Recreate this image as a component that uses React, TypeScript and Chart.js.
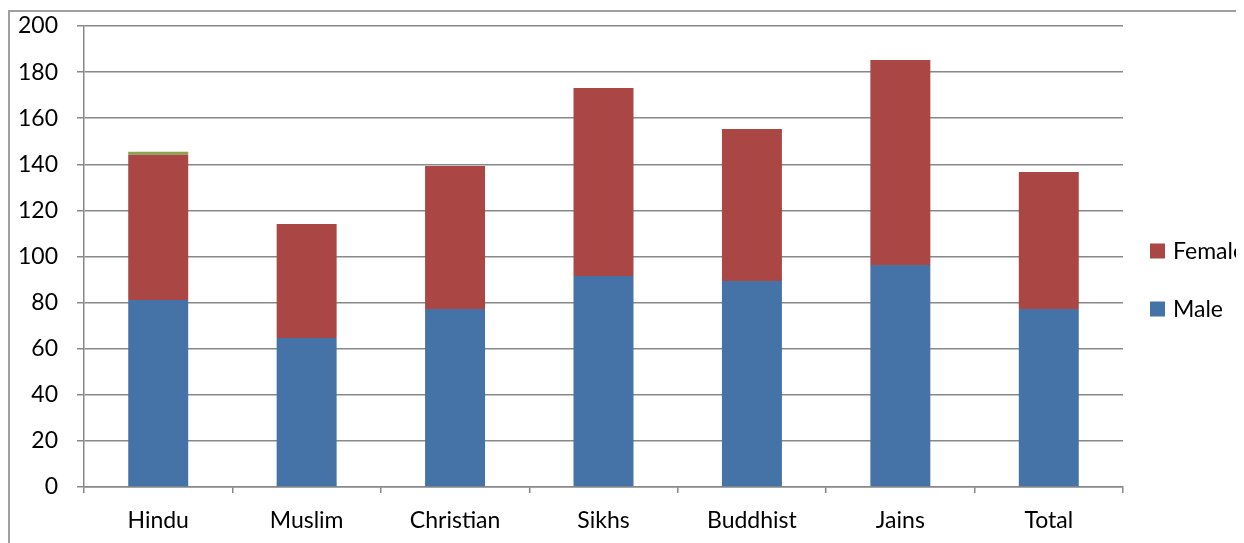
import React, { useEffect, useRef } from "react";
import { Chart, registerables } from "chart.js";

Chart.register(...registerables);

const categories = ["Hindu", "Muslim", "Christian", "Sikhs", "Buddhist", "Jains", "Total"];
const maleValues = [81.1, 64.6, 77.2, 91.5, 89.4, 96.3, 77.2];
const femaleValues = [63.0, 49.5, 62.1, 81.6, 65.9, 88.9, 59.5];
const otherValues = [1.3, 0, 0, 0, 0, 0, 0];
const yTicks = [0, 20, 40, 60, 80, 100, 120, 140, 160, 180, 200];

const FONT = "Lato, 'Open Sans', sans-serif";
const GRID = "#888888";

const legendPlugin = {
  id: "sideLegend",
  afterDraw(chart: any) {
    const ctx = chart.ctx;
    const area = chart.chartArea;
    const items = [1, 0].map((i) => chart.data.datasets[i]);
    ctx.save();
    ctx.font = `23px ${FONT}`;
    ctx.textBaseline = "middle";
    ctx.textAlign = "left";
    items.forEach((ds: any, k: number) => {
      const cy = area.top + 225 + k * 58;
      const x = area.right + 27;
      ctx.fillStyle = ds.backgroundColor;
      ctx.fillRect(x, cy - 7.5, 15, 15);
      ctx.fillStyle = "#000";
      ctx.fillText(ds.label, x + 23, cy + 1);
    });
    ctx.restore();
  },
};

export default function App() {
  const ref = useRef<HTMLCanvasElement>(null);
  useEffect(() => {
    if (!ref.current) return;
    const chart = new Chart(ref.current, {
      type: "bar",
      data: {
        labels: categories,
        datasets: [
          { label: "Male", data: maleValues, backgroundColor: "#4572A7", barPercentage: 0.404, categoryPercentage: 1 },
          { label: "Female", data: femaleValues, backgroundColor: "#AA4643", barPercentage: 0.404, categoryPercentage: 1 },
          { label: "", data: otherValues, backgroundColor: "#89A54E", barPercentage: 0.404, categoryPercentage: 1 },
        ],
      },
      options: {
        animation: false,
        responsive: false,
        maintainAspectRatio: false,
        layout: { padding: { top: 14, right: 121, left: 0, bottom: 0 } },
        plugins: { legend: { display: false }, tooltip: { enabled: false } },
        scales: {
          x: {
            stacked: true,
            grid: { display: true, drawOnChartArea: false, drawTicks: true, tickLength: 6, color: GRID, lineWidth: 1.5 },
            border: { display: true, color: GRID, width: 1.5 },
            ticks: { color: "#000", font: { family: FONT, size: 23 }, padding: 14, maxRotation: 0 },
            afterFit: (s: any) => { s.height = 56; s.paddingLeft = 0; s.paddingRight = 0; },
          },
          y: {
            stacked: true,
            min: 0,
            max: 200,
            afterBuildTicks: (s: any) => { s.ticks = yTicks.map((v) => ({ value: v })); },
            grid: { color: GRID, lineWidth: 1.5, tickLength: 7 },
            border: { display: true, color: GRID, width: 1.5 },
            ticks: { color: "#000", font: { family: FONT, size: 23 }, padding: 19 },
            afterFit: (s: any) => { s.width = 74; s.paddingTop = 0; s.paddingBottom = 0; },
          },
        },
      },
      plugins: [legendPlugin],
    });
    return () => chart.destroy();
  }, []);
  return (
    <div style={{ paddingTop: 2 }}>
      <div style={{ borderTop: "2px solid #a0a0a0", borderLeft: "2px solid #a0a0a0", width: 1236, height: 533, boxSizing: "border-box", overflow: "hidden" }}>
        <canvas ref={ref} width={1234} height={531} style={{ display: "block" }} />
      </div>
    </div>
  );
}
